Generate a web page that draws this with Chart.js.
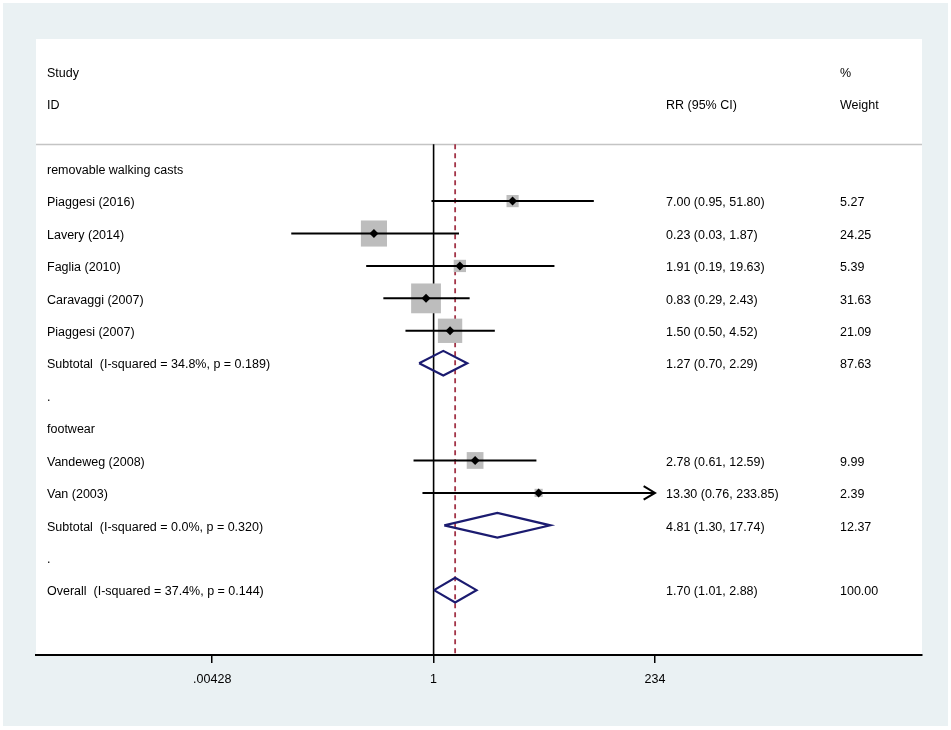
<!DOCTYPE html>
<html>
<head>
<meta charset="utf-8">
<style>
  html, body { margin: 0; padding: 0; background: #fff; }
  #wrap { position: absolute; left: 3px; top: 3px; width: 945px; height: 723px; }
</style>
</head>
<body>
<div id="wrap">
  <canvas id="forest"></canvas>
</div>

<script src="https://cdn.jsdelivr.net/npm/chart.js"></script>

<script>
  // rows, counted from "removable walking casts" = 0
  const rowLabels = [
    'removable walking casts',
    'Piaggesi (2016)',
    'Lavery (2014)',
    'Faglia (2010)',
    'Caravaggi (2007)',
    'Piaggesi (2007)',
    'Subtotal  (I-squared = 34.8%, p = 0.189)',
    '.',
    'footwear',
    'Vandeweg (2008)',
    'Van (2003)',
    'Subtotal  (I-squared = 0.0%, p = 0.320)',
    '.',
    'Overall  (I-squared = 37.4%, p = 0.144)'
  ];

  // single studies
  const studyRows = [1, 2, 3, 4, 5, 9, 10];
  const studyRR = [7.00, 0.23, 1.91, 0.83, 1.50, 2.78, 13.30];
  const studyLo = [0.95, 0.03, 0.19, 0.29, 0.50, 0.61, 0.76];
  const studyHi = [51.80, 1.87, 19.63, 2.43, 4.52, 12.59, 233.85];
  const studyWeight = [5.27, 24.25, 5.39, 31.63, 21.09, 9.99, 2.39];

  // pooled estimates (two subtotals + overall)
  const poolRows = [6, 11, 13];
  const poolRR = [1.27, 4.81, 1.70];
  const poolLo = [0.70, 1.30, 1.01];
  const poolHi = [2.29, 17.74, 2.88];
  const poolWeight = [87.63, 12.37, 100.00];

  const overallRR = 1.70;

  const tickValues = [0.00428, 1, 234];
  const tickLabels = ['.00428', '1', '234'];
</script>

<script>
  const FONT = 'Arial, "Liberation Sans", sans-serif';
  const navy = '#1b1b70';
  const grey = '#bdbdbd';
  const dashRed = '#a33548';

  const topRow = -0.75;   // separator under the header
  const bottomRow = 15;

  let datasets = [];
  function add(ds) {
    ds.order = -datasets.length;
    datasets.push(ds);
  }

  // no-effect line and overall line
  add({
    data: [{x: 1, y: topRow}, {x: 1, y: bottomRow}],
    showLine: true, borderColor: '#000', borderWidth: 1.6, pointRadius: 0
  });
  add({
    data: [{x: overallRR, y: topRow}, {x: overallRR, y: bottomRow}],
    showLine: true, borderColor: dashRed, borderWidth: 1.8, borderDash: [5, 4], pointRadius: 0
  });

  // weight boxes
  let boxes = [];
  let boxRadius = [];
  for (let i = 0; i < studyRows.length; i++) {
    boxes.push({x: studyRR[i], y: studyRows[i]});
    boxRadius.push(5.3 * Math.sqrt(studyWeight[i]) / Math.SQRT2);
  }
  add({
    data: boxes, pointStyle: 'rect', pointRadius: boxRadius,
    backgroundColor: grey, borderColor: grey, borderWidth: 0
  });

  // confidence intervals
  const xClip = tickValues[tickValues.length - 1];
  for (let i = 0; i < studyRows.length; i++) {
    let hi = Math.min(studyHi[i], xClip);
    add({
      data: [{x: studyLo[i], y: studyRows[i]}, {x: hi, y: studyRows[i]}],
      showLine: true, borderColor: '#000', borderWidth: 2, pointRadius: 0
    });
    if (studyHi[i] >= xClip * 0.99) {
      let back = hi * Math.exp(-0.28);
      add({
        data: [{x: back, y: studyRows[i] - 0.21}, {x: hi, y: studyRows[i]}, {x: back, y: studyRows[i] + 0.21}],
        showLine: true, borderColor: '#000', borderWidth: 2, pointRadius: 0
      });
    }
  }

  // point estimates
  add({
    data: studyRows.map((r, i) => ({x: studyRR[i], y: r})),
    pointStyle: 'rectRot', pointRadius: 4.5,
    backgroundColor: '#000', borderColor: '#000', borderWidth: 0
  });

  // pooled diamonds
  const halfH = 0.38;
  for (let i = 0; i < poolRows.length; i++) {
    let r = poolRows[i];
    add({
      data: [
        {x: poolLo[i], y: r}, {x: poolRR[i], y: r - halfH},
        {x: poolHi[i], y: r}, {x: poolRR[i], y: r + halfH},
        {x: poolLo[i], y: r}
      ],
      showLine: true, borderColor: navy, borderWidth: 2.2, pointRadius: 0, tension: 0
    });
  }

  function fmt(v) { return v.toFixed(2); }

  const panel = {
    id: 'panel',
    beforeDraw(chart) {
      const c = chart.ctx, a = chart.chartArea, ys = chart.scales.y;
      c.save();
      c.fillStyle = '#eaf1f3';
      c.fillRect(0, 0, chart.width, chart.height);
      c.fillStyle = '#fff';
      c.fillRect(a.left, a.top, a.right - a.left, a.bottom - a.top);
      let sy = Math.round(ys.getPixelForValue(topRow)) + 0.5;
      c.strokeStyle = '#c4c4c4';
      c.lineWidth = 1.5;
      c.beginPath();
      c.moveTo(a.left, sy);
      c.lineTo(a.right, sy);
      c.stroke();
      c.restore();
    },
    afterDatasetsDraw(chart) {
      const c = chart.ctx, a = chart.chartArea, ys = chart.scales.y;
      const colL = a.left + 11, colRR = a.left + 630, colW = a.left + 804;
      const row = (r) => ys.getPixelForValue(r) + 1.8;
      c.save();
      c.fillStyle = '#000';
      c.font = '12.5px ' + FONT;
      c.textBaseline = 'middle';
      c.textAlign = 'left';
      c.fillText('Study', colL, row(-3));
      c.fillText('ID', colL, row(-2));
      c.fillText('%', colW, row(-3));
      c.fillText('RR (95% CI)', colRR, row(-2));
      c.fillText('Weight', colW, row(-2));
      for (let r = 0; r < rowLabels.length; r++) {
        c.fillText(rowLabels[r], colL, row(r));
      }
      for (let i = 0; i < studyRows.length; i++) {
        let y = row(studyRows[i]);
        c.fillText(fmt(studyRR[i]) + ' (' + fmt(studyLo[i]) + ', ' + fmt(studyHi[i]) + ')', colRR, y);
        c.fillText(fmt(studyWeight[i]), colW, y);
      }
      for (let i = 0; i < poolRows.length; i++) {
        let y = row(poolRows[i]);
        c.fillText(fmt(poolRR[i]) + ' (' + fmt(poolLo[i]) + ', ' + fmt(poolHi[i]) + ')', colRR, y);
        c.fillText(fmt(poolWeight[i]), colW, y);
      }
      c.restore();
    }
  };

  // px per ln unit ~40.6, axis runs from 36 to 922 with 1 at 433.6
  const xMin = Math.exp(-9.795);
  const xMax = Math.exp(12.032);

  new Chart(document.getElementById('forest'), {
    type: 'scatter',
    data: { datasets: datasets },
    options: {
      responsive: true,
      maintainAspectRatio: false,
      animation: false,
      events: [],
      layout: { padding: { left: 33, top: 36, right: 26, bottom: 0 } },
      plugins: { legend: { display: false }, tooltip: { enabled: false } },
      scales: {
        x: {
          type: 'logarithmic',
          position: 'bottom',
          min: xMin,
          max: xMax,
          bounds: 'data',
          afterBuildTicks: (s) => { s.ticks = tickValues.map(v => ({value: v})); },
          afterFit: (s) => { s.height = 71; },
          grid: { display: true, drawOnChartArea: false, drawTicks: true, tickLength: 8, color: '#000', lineWidth: 1.5 },
          border: { display: true, color: '#000', width: 2 },
          ticks: {
            color: '#000',
            font: { family: FONT, size: 12.5 },
            padding: 9,
            maxRotation: 0,
            autoSkip: false,
            callback: (v, i) => tickLabels[i]
          }
        },
        y: {
          type: 'linear',
          display: false,
          reverse: true,
          min: -4,
          max: 15
        }
      }
    },
    plugins: [panel]
  });
</script>
</body>
</html>
